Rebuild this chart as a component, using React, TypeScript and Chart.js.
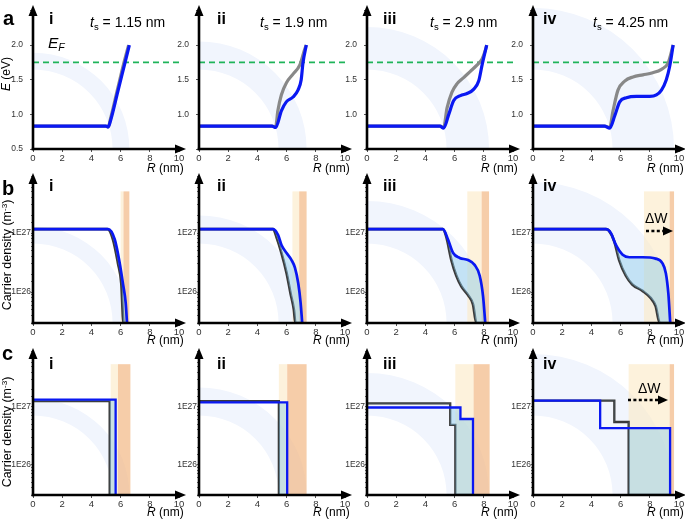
import React, { useEffect, useRef } from "react";
import { Chart, registerables } from "chart.js";
Chart.register(...registerables);

const FONT = "'Liberation Sans', Arial, Helvetica, sans-serif";

// ---------- shared labels ----------
const romanLabels = ["i", "ii", "iii", "iv"];
const shellThickness = ["1.15", "1.9", "2.9", "4.25"];
const xTickValues = [0, 2, 4, 6, 8, 10];
const energyTickLabels = ["0.5", "1.0", "1.5", "2.0"];
const fermiLevel = 1.75;
const coreRadius = 5.45;
const shellOuterRadius = [6.6, 7.37, 8.36, 9.66];

// ---------- row a : band energy E (eV) vs R (nm) ----------
const eBlueR1 = [0, 5.0, 5.15, 5.3, 5.8, 6.2, 6.6];
const eBlueE1 = [0.83, 0.83, 0.82, 0.9, 1.32, 1.66, 2.0];
const eGrayR1 = [0, 5.0, 5.15, 5.3, 5.8, 6.2, 6.55];
const eGrayE1 = [0.83, 0.83, 0.82, 0.93, 1.37, 1.72, 2.0];

const eBlueR2 = [0, 5.0, 5.25, 5.64, 5.98, 6.44, 6.78, 7.0, 7.12, 7.35];
const eBlueE2 = [0.83, 0.83, 0.81, 1.05, 1.18, 1.25, 1.35, 1.5, 1.74, 2.0];
const eGrayR2 = [0, 5.0, 5.25, 5.4, 5.64, 6.0, 6.44, 6.9, 7.24, 7.35];
const eGrayE2 = [0.83, 0.83, 0.82, 1.05, 1.28, 1.46, 1.58, 1.71, 1.94, 2.0];

const eBlueR3 = [0, 5.0, 5.25, 5.6, 5.94, 6.4, 6.85, 7.3, 7.65, 7.88, 8.2];
const eBlueE3 = [0.83, 0.83, 0.8, 1.0, 1.2, 1.27, 1.3, 1.36, 1.48, 1.71, 2.0];
const eGrayR3 = [0, 5.0, 5.25, 5.48, 5.82, 6.16, 6.62, 7.08, 7.53, 7.88, 8.1, 8.2];
const eGrayE3 = [0.83, 0.83, 0.81, 1.09, 1.32, 1.44, 1.53, 1.62, 1.71, 1.8, 1.92, 2.0];

const eBlueR4 = [0, 4.9, 5.25, 5.6, 5.94, 6.4, 7.08, 8.0, 8.45, 8.8, 9.13, 9.36, 9.6];
const eBlueE4 = [0.83, 0.83, 0.8, 0.98, 1.18, 1.24, 1.26, 1.26, 1.28, 1.35, 1.5, 1.69, 2.0];
const eGrayR4 = [0, 4.9, 5.25, 5.48, 5.82, 6.28, 6.85, 7.53, 8.2, 8.8, 9.25, 9.6];
const eGrayE4 = [0.83, 0.83, 0.81, 1.05, 1.35, 1.48, 1.54, 1.57, 1.6, 1.65, 1.74, 2.0];

// ---------- row b : carrier density (m^-3), smooth profiles ----------
const nBlueR1 = [0, 5.15, 5.6, 5.94, 6.16, 6.35, 6.44];
const nBlueN1 = [1.17e27, 1.17e27, 7.8e26, 3.1e26, 1.4e26, 6.5e25, 3e25];
const nGrayR1 = [0, 5.1, 5.48, 5.82, 6.05, 6.2, 6.44];
const nGrayN1 = [1.17e27, 1.17e27, 7.8e26, 3.1e26, 1.4e26, 3e25, 3e25];

const nBlueR2 = [0, 5.08, 5.42, 5.65, 6.0, 6.34, 6.57, 6.8, 6.96, 7.07];
const nBlueN2 = [1.17e27, 1.17e27, 9.3e26, 6.3e26, 4.6e26, 3.5e26, 2.6e26, 1.4e26, 6.6e25, 3e25];
const nGrayR2 = [0, 5.08, 5.3, 5.65, 6.0, 6.27, 6.5, 6.6, 7.07];
const nGrayN2 = [1.17e27, 1.17e27, 8.7e26, 4.6e26, 2.1e26, 9.5e25, 5e25, 3e25, 3e25];

const nBlueR3 = [0, 5.2, 5.55, 5.9, 6.35, 6.92, 7.37, 7.72, 7.95, 8.1];
const nBlueN3 = [1.17e27, 1.17e27, 7.8e26, 4.6e26, 3.8e26, 3.5e26, 2.9e26, 1.9e26, 8.5e25, 3e25];
const nGrayR3 = [0, 5.2, 5.43, 5.78, 6.12, 6.46, 6.92, 7.26, 7.49, 8.1];
const nGrayN3 = [1.17e27, 1.17e27, 8.7e26, 3.5e26, 1.9e26, 1.26e26, 8.9e25, 6.2e25, 3e25, 3e25];

const nBlueR4 = [0, 5.0, 5.34, 5.68, 6.14, 6.6, 7.5, 8.4, 8.86, 9.1, 9.27, 9.4];
const nBlueN4 = [1.17e27, 1.17e27, 1.0e27, 6.3e26, 4.3e26, 3.9e26, 3.9e26, 3.7e26, 3.1e26, 2.1e26, 9.5e25, 3e25];
const nGrayR4 = [0, 5.0, 5.2, 5.57, 5.9, 6.36, 6.8, 7.5, 8.07, 8.4, 8.68, 9.4];
const nGrayN4 = [1.17e27, 1.17e27, 1.1e27, 7.2e26, 3.5e26, 1.9e26, 1.35e26, 1.05e26, 7.9e25, 5.8e25, 3e25, 3e25];

// ---------- row c : carrier density (m^-3), step profiles ----------
const sBlueR1 = [0, 5.66, 5.66];
const sBlueN1 = [1.34e27, 1.34e27, 3e25];
const sGrayR1 = [0, 5.25, 5.25, 5.66];
const sGrayN1 = [1.26e27, 1.26e27, 3e25, 3e25];

const sBlueR2 = [0, 6.04, 6.04];
const sBlueN2 = [1.2e27, 1.2e27, 3e25];
const sGrayR2 = [0, 5.47, 5.47, 6.04];
const sGrayN2 = [1.26e27, 1.26e27, 3e25, 3e25];

const sBlueR3 = [0, 6.4, 6.4, 7.26, 7.26];
const sBlueN3 = [9.8e26, 9.8e26, 6.2e26, 6.2e26, 3e25];
const sGrayR3 = [0, 5.7, 5.7, 6.05, 6.05, 7.26];
const sGrayN3 = [1.15e27, 1.15e27, 4.9e26, 4.9e26, 3e25, 3e25];

const sBlueR4 = [0, 4.6, 4.6, 9.39, 9.39];
const sBlueN4 = [1.29e27, 1.29e27, 4.3e26, 4.3e26, 3e25];
const sGrayR4 = [0, 5.57, 5.57, 6.55, 6.55, 9.39];
const sGrayN4 = [1.29e27, 1.29e27, 5.5e26, 5.5e26, 3e25, 3e25];

// shaded regions (R in nm): [creamStart, creamEnd(=orangeStart), orangeEnd]
const bandsB = [
  [6.0, 6.2, 6.6],
  [6.4, 6.86, 7.37],
  [6.87, 7.85, 8.36],
  [7.6, 9.36, 9.66],
];
const bandsC = [
  [5.32, 5.82, 6.67],
  [5.47, 6.04, 7.37],
  [6.05, 7.3, 8.4],
  [6.55, 9.36, 9.66],
];
const bandTopB = 5.1e27;
const bandTopC = 5.5e27;

// ---------- layout ----------
const COL_AXIS_X = [33, 199, 367, 533];
const PLOT_W = 146;
const ROW_TOP: Record<string, number> = { a: 4, b: 176, c: 351 };
const ROW_BOTTOM: Record<string, number> = { a: 149, b: 323, c: 495 };
const YW = 32, PT = 8, PR = 12, XH = 16;
const E_MIN = 0.5, E_MAX = 2.533;
const N_MIN = 3e25, N_MAX = 9.3e27;

type Spec = {
  row: "a" | "b" | "c";
  col: number;
  blueR: number[]; blueV: number[];
  grayR: number[]; grayV: number[];
};

const specs: Spec[] = [
  { row: "a", col: 0, blueR: eBlueR1, blueV: eBlueE1, grayR: eGrayR1, grayV: eGrayE1 },
  { row: "a", col: 1, blueR: eBlueR2, blueV: eBlueE2, grayR: eGrayR2, grayV: eGrayE2 },
  { row: "a", col: 2, blueR: eBlueR3, blueV: eBlueE3, grayR: eGrayR3, grayV: eGrayE3 },
  { row: "a", col: 3, blueR: eBlueR4, blueV: eBlueE4, grayR: eGrayR4, grayV: eGrayE4 },
  { row: "b", col: 0, blueR: nBlueR1, blueV: nBlueN1, grayR: nGrayR1, grayV: nGrayN1 },
  { row: "b", col: 1, blueR: nBlueR2, blueV: nBlueN2, grayR: nGrayR2, grayV: nGrayN2 },
  { row: "b", col: 2, blueR: nBlueR3, blueV: nBlueN3, grayR: nGrayR3, grayV: nGrayN3 },
  { row: "b", col: 3, blueR: nBlueR4, blueV: nBlueN4, grayR: nGrayR4, grayV: nGrayN4 },
  { row: "c", col: 0, blueR: sBlueR1, blueV: sBlueN1, grayR: sGrayR1, grayV: sGrayN1 },
  { row: "c", col: 1, blueR: sBlueR2, blueV: sBlueN2, grayR: sGrayR2, grayV: sGrayN2 },
  { row: "c", col: 2, blueR: sBlueR3, blueV: sBlueN3, grayR: sGrayR3, grayV: sGrayN3 },
  { row: "c", col: 3, blueR: sBlueR4, blueV: sBlueN4, grayR: sGrayR4, grayV: sGrayN4 },
];

function geom(s: Spec) {
  const left = COL_AXIS_X[s.col] - YW;
  const top = ROW_TOP[s.row] - PT;
  const w = YW + PLOT_W + PR;
  const h = PT + (ROW_BOTTOM[s.row] - ROW_TOP[s.row]) + XH;
  return { left, top, w, h };
}

function makeDecor(s: Spec) {
  return {
    id: "decor",
    beforeDraw(chart: any) {
      const { ctx, chartArea: a, scales } = chart;
      const x = scales.x, y = scales.y;
      ctx.save();
      ctx.beginPath();
      ctx.rect(a.left, a.top, a.right - a.left, a.bottom - a.top);
      ctx.clip();
      const x0 = x.getPixelForValue(0);
      const ro = x.getPixelForValue(shellOuterRadius[s.col]) - x0;
      const ri = x.getPixelForValue(coreRadius) - x0;
      ctx.fillStyle = "#f1f5fd";
      ctx.beginPath();
      ctx.arc(x0, a.bottom, ro, 0, Math.PI * 2);
      ctx.arc(x0, a.bottom, ri, 0, Math.PI * 2, true);
      ctx.fill();
      if (s.row !== "a") {
        const b = s.row === "b" ? bandsB[s.col] : bandsC[s.col];
        const topV = s.row === "b" ? bandTopB : bandTopC;
        const yt = y.getPixelForValue(topV);
        const p0 = x.getPixelForValue(b[0]);
        const p1 = x.getPixelForValue(b[1]);
        const p2 = x.getPixelForValue(b[2]);
        ctx.fillStyle = "rgba(252,234,196,0.6)";
        ctx.fillRect(p0, yt, p1 - p0, a.bottom - yt);
        ctx.fillStyle = "rgba(243,186,136,0.72)";
        ctx.fillRect(p1, yt, p2 - p1, a.bottom - yt);
      }
      ctx.restore();
    },
    afterDraw(chart: any) {
      const { ctx, chartArea: a } = chart;
      ctx.save();
      ctx.strokeStyle = "#000";
      ctx.fillStyle = "#000";
      ctx.lineWidth = 2.6;
      ctx.beginPath();
      ctx.moveTo(a.left, a.bottom + 1.3);
      ctx.lineTo(a.left, a.top + 6);
      ctx.stroke();
      ctx.beginPath();
      ctx.moveTo(a.left, a.top - 3);
      ctx.lineTo(a.left - 4.5, a.top + 8);
      ctx.lineTo(a.left + 4.5, a.top + 8);
      ctx.closePath();
      ctx.fill();
      ctx.beginPath();
      ctx.moveTo(a.left - 1.3, a.bottom);
      ctx.lineTo(a.right, a.bottom);
      ctx.stroke();
      ctx.beginPath();
      ctx.moveTo(a.right + 7, a.bottom);
      ctx.lineTo(a.right - 4, a.bottom - 4.5);
      ctx.lineTo(a.right - 4, a.bottom + 4.5);
      ctx.closePath();
      ctx.fill();
      ctx.restore();
    },
  };
}

function isDecade(v: number, e: number) {
  return Math.abs(Math.log10(v) - e) < 1e-6;
}

function buildConfig(s: Spec): any {
  const isA = s.row === "a";
  const isStep = s.row === "c";
  const blue = s.blueR.map((r, i) => ({ x: r, y: s.blueV[i] }));
  const gray = s.grayR.map((r, i) => ({ x: r, y: s.grayV[i] }));
  const lineW = isA ? 3.2 : isStep ? 2.3 : 2.7;
  const datasets: any[] = [
    {
      data: blue,
      borderColor: "#0a18f2",
      borderWidth: lineW,
      pointRadius: 0,
      cubicInterpolationMode: isStep ? "default" : "monotone",
      tension: 0,
      order: 0,
      fill: isA ? false : { target: 1, above: "rgba(140,205,235,0.45)", below: "rgba(0,0,0,0)" },
    },
    {
      data: gray,
      borderColor: isA ? "#888888" : "#3a3a3a",
      borderWidth: lineW,
      pointRadius: 0,
      cubicInterpolationMode: isStep ? "default" : "monotone",
      tension: 0,
      order: 1,
      fill: false,
    },
  ];
  if (isA) {
    datasets.push({
      data: [{ x: 0, y: fermiLevel }, { x: 10, y: fermiLevel }],
      borderColor: "#1fb45a",
      borderDash: [6, 4],
      borderWidth: 1.7,
      pointRadius: 0,
      order: 2,
      fill: false,
    });
  }
  const yScale: any = isA
    ? {
        type: "linear",
        min: E_MIN,
        max: E_MAX,
        ticks: {
          stepSize: 0.5,
          includeBounds: false,
          autoSkip: false,
          padding: 7,
          color: "#333",
          font: { family: FONT, size: 8.5 },
          callback: (v: number) => {
            const lbl = v.toFixed(1);
            if (!energyTickLabels.includes(lbl)) return "";
            if (lbl === "0.5" && s.col !== 0) return "";
            return lbl;
          },
        },
        grid: { drawOnChartArea: false, drawTicks: true, tickLength: 3, color: "#555" },
        border: { display: false },
        afterFit: (sc: any) => { sc.width = YW; },
      }
    : {
        type: "logarithmic",
        min: N_MIN,
        max: N_MAX,
        ticks: {
          autoSkip: false,
          padding: 0,
          color: "#333",
          font: { family: FONT, size: 8.5 },
          callback: (v: number) => (isDecade(v, 26) ? "1E26" : isDecade(v, 27) ? "1E27" : ""),
        },
        grid: { drawOnChartArea: false, drawTicks: true, tickLength: 2, color: "#666" },
        border: { display: false },
        afterFit: (sc: any) => { sc.width = YW; },
      };
  return {
    type: "line",
    data: { datasets },
    options: {
      animation: false,
      responsive: false,
      maintainAspectRatio: false,
      devicePixelRatio: 1,
      layout: { padding: { left: 0, top: PT, right: PR, bottom: 0 } },
      plugins: { legend: { display: false }, tooltip: { enabled: false } },
      scales: {
        x: {
          type: "linear",
          min: 0,
          max: 10,
          afterBuildTicks: (sc: any) => { sc.ticks = xTickValues.map((v) => ({ value: v })); },
          ticks: { padding: 1, maxRotation: 0, autoSkip: false, color: "#333", font: { family: FONT, size: 9.5 } },
          grid: { drawOnChartArea: false, drawTicks: true, tickLength: 3, color: "#555" },
          border: { display: false },
          afterFit: (sc: any) => { sc.height = XH; },
        },
        y: yScale,
      },
    },
    plugins: [makeDecor(s)],
  };
}

function Panel({ spec }: { spec: Spec }) {
  const ref = useRef<HTMLCanvasElement>(null);
  useEffect(() => {
    const chart = new Chart(ref.current as HTMLCanvasElement, buildConfig(spec));
    return () => chart.destroy();
  }, [spec]);
  const g = geom(spec);
  return (
    <canvas
      ref={ref}
      width={g.w}
      height={g.h}
      style={{ position: "absolute", left: g.left, top: g.top, width: g.w, height: g.h }}
    />
  );
}

const txt = (extra: React.CSSProperties): React.CSSProperties => ({
  position: "absolute",
  fontFamily: FONT,
  lineHeight: 1,
  whiteSpace: "nowrap",
  color: "#000",
  ...extra,
});

const sub: React.CSSProperties = { fontSize: "0.68em", position: "relative", top: "0.32em" };

export default function App() {
  const romanBaseline: Record<string, number> = { a: 24.5, b: 191.5, c: 370 };
  const romanLeft = [49, 217, 383, 543];
  const rnmTop: Record<string, number> = { a: 161.5, b: 333.5, c: 505.5 };
  const tsLeft = [90, 260, 430, 593];
  return (
    <div style={{ position: "absolute", left: 0, top: 0, width: 685, height: 521, background: "#fff", overflow: "hidden" }}>
      {specs.map((s, i) => (
        <Panel key={i} spec={s} />
      ))}
      {/* panel letters */}
      <div style={txt({ left: 3, top: 8, fontSize: 20, fontWeight: "bold" })}>a</div>
      <div style={txt({ left: 2, top: 178, fontSize: 20, fontWeight: "bold" })}>b</div>
      <div style={txt({ left: 2, top: 343, fontSize: 20, fontWeight: "bold" })}>c</div>
      {/* roman numerals */}
      {(["a", "b", "c"] as const).map((r) =>
        romanLabels.map((lbl, c) => (
          <div key={r + lbl} style={txt({ left: romanLeft[c], top: romanBaseline[r] - 0.85 * 16, fontSize: 16, fontWeight: "bold" })}>
            {lbl}
          </div>
        ))
      )}
      {/* shell thickness labels */}
      {shellThickness.map((t, c) => (
        <div key={"ts" + c} style={txt({ left: tsLeft[c], top: 15, fontSize: 14 })}>
          <i>t</i>
          <span style={sub}>s</span> = {t} nm
        </div>
      ))}
      {/* Fermi level */}
      <div style={txt({ left: 48, top: 35, fontSize: 15.5 })}>
        <i>E</i>
        <span style={{ ...sub, fontStyle: "italic" }}>F</span>
      </div>
      {/* x axis titles */}
      {(["a", "b", "c"] as const).map((r) =>
        COL_AXIS_X.map((ax, c) => (
          <div key={"rnm" + r + c} style={txt({ left: ax + 114, top: rnmTop[r], fontSize: 12 })}>
            <i>R</i> (nm)
          </div>
        ))
      )}
      {/* y axis titles */}
      <div style={txt({ left: 6, top: 74, fontSize: 12, transform: "translate(-50%,-50%) rotate(-90deg)" })}>
        <i>E</i> (eV)
      </div>
      <div style={txt({ left: 7, top: 255, fontSize: 12.5, transform: "translate(-50%,-50%) rotate(-90deg)" })}>
        Carrier density (m<span style={{ fontSize: "0.65em", position: "relative", top: "-0.45em" }}>-3</span>)
      </div>
      <div style={txt({ left: 7, top: 432, fontSize: 12.5, transform: "translate(-50%,-50%) rotate(-90deg)" })}>
        Carrier density (m<span style={{ fontSize: "0.65em", position: "relative", top: "-0.45em" }}>-3</span>)
      </div>
      {/* ΔW annotations */}
      <div style={txt({ left: 645, top: 211, fontSize: 14 })}>ΔW</div>
      <div style={txt({ left: 638, top: 381, fontSize: 14 })}>ΔW</div>
      <svg width={685} height={521} style={{ position: "absolute", left: 0, top: 0, pointerEvents: "none" }}>
        <line x1={646} y1={231} x2={664} y2={231} stroke="#000" strokeWidth={2.6} strokeDasharray="3 2.4" />
        <polygon points="673,231 663,226.5 663,235.5" fill="#000" />
        <line x1={628} y1={400} x2={659} y2={400} stroke="#000" strokeWidth={2.6} strokeDasharray="3 2.4" />
        <polygon points="668,400 658,395.5 658,404.5" fill="#000" />
      </svg>
    </div>
  );
}
